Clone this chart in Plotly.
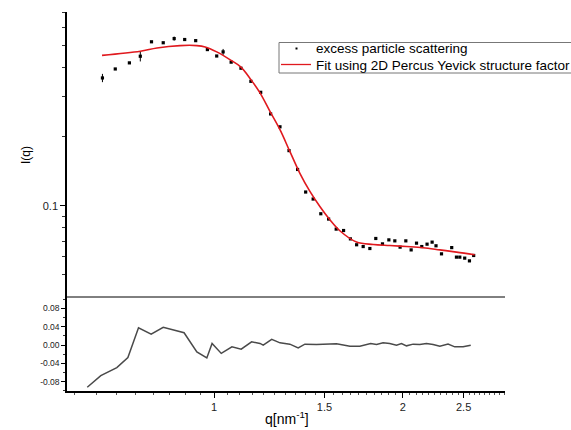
import plotly.graph_objects as go
import numpy as np

# ---- data ----
q_data = [0.664, 0.696, 0.733, 0.763, 0.795, 0.830, 0.864, 0.898, 0.935, 0.976,
          1.010, 1.034, 1.065, 1.104, 1.145, 1.187, 1.231, 1.274, 1.317, 1.359,
          1.400, 1.439, 1.480, 1.523, 1.566, 1.609, 1.650, 1.688, 1.729, 1.772,
          1.811, 1.856, 1.900, 1.942, 1.980, 2.022, 2.062, 2.103, 2.144, 2.186,
          2.227, 2.259, 2.305, 2.393, 2.435, 2.465, 2.510, 2.554, 2.594]
I_data = [0.361, 0.395, 0.420, 0.449, 0.519, 0.514, 0.536, 0.531, 0.525, 0.480,
          0.450, 0.469, 0.423, 0.398, 0.349, 0.3125, 0.2515, 0.221, 0.174, 0.144,
          0.1148, 0.107, 0.0923, 0.0875, 0.0791, 0.0780, 0.0717, 0.0676, 0.0664, 0.0651,
          0.0720, 0.0682, 0.0710, 0.0703, 0.0660, 0.0703, 0.0642, 0.0687, 0.0664, 0.0680,
          0.0694, 0.0669, 0.0617, 0.0657, 0.0597, 0.0597, 0.0591, 0.0575, 0.0607]
I_err = [0.015, 0, 0, 0.023, 0, 0, 0.011, 0, 0, 0,
         0, 0.014, 0, 0, 0, 0, 0, 0, 0, 0,
         0, 0, 0, 0, 0, 0, 0, 0, 0, 0,
         0, 0, 0, 0, 0, 0, 0, 0, 0, 0,
         0, 0, 0, 0, 0, 0, 0, 0, 0]

q_fit = [0.663, 0.763, 0.811, 0.883, 0.939, 0.968, 1.010, 1.060, 1.104, 1.145,
         1.184, 1.228, 1.274, 1.321, 1.370, 1.422, 1.475, 1.530, 1.587, 1.687,
         1.794, 1.907, 2.027, 2.154, 2.291, 2.435, 2.604]
I_fit = [0.453, 0.472, 0.488, 0.4996, 0.4996, 0.493, 0.469, 0.434, 0.4026, 0.355,
         0.3105, 0.258, 0.2147, 0.1726, 0.1389, 0.1155, 0.0993, 0.0869, 0.0778, 0.0695,
         0.0678, 0.0671, 0.0664, 0.0656, 0.0642, 0.0628, 0.0611]

q_res = [0.628, 0.660, 0.700, 0.729, 0.758, 0.794, 0.830, 0.896, 0.939, 0.974,
         0.993, 1.027, 1.068, 1.105, 1.148, 1.184, 1.198, 1.236, 1.274, 1.321,
         1.362, 1.396, 1.457, 1.512, 1.568, 1.647, 1.708, 1.777, 1.816, 1.860,
         1.906, 1.954, 1.990, 2.027, 2.077, 2.128, 2.181, 2.235, 2.291, 2.361,
         2.420, 2.495, 2.566]
res = [-0.0917, -0.0666, -0.049, -0.027, 0.038, 0.024, 0.039, 0.027, -0.0147, -0.028,
       0.0037, -0.018, -0.0037, -0.0088, 0.0073, 0.0037, 0.0, 0.0125, 0.005, 0.0022,
       -0.006, 0.0022, 0.0015, 0.0022, 0.003, -0.0022, -0.0022, 0.0037, 0.0015, 0.005,
       0.0037, 0.0, 0.0037, -0.0015, 0.0022, 0.0015, 0.0037, 0.0015, -0.0022, 0.0022,
       -0.0037, -0.0037, 0.0]

x_major = [1, 1.5, 2, 2.5]
x_major_text = ["1", "1.5", "2", "2.5"]
x_minor = [round(0.6 + 0.05 * i, 2) for i in range(47)]
y_top_major = [0.1]
y_top_minor = [0.05, 0.06, 0.07, 0.08, 0.09, 0.2, 0.3, 0.4, 0.5, 0.6, 0.7]
y_bot_major = [-0.08, -0.04, 0.0, 0.04, 0.08]
y_bot_text = ["-0.08", "-0.04", "0.00", "0.04", "0.08"]
y_bot_minor = [-0.1, -0.06, -0.02, 0.02, 0.06, 0.1]

data_name = "excess particle scattering"
fit_name = "Fit using 2D Percus Yevick structure factor"

FONT = "Liberation Sans, Arial, sans-serif"
RED = "#e0191e"

fig = go.Figure()
fig.add_trace(go.Scatter(
    x=q_data, y=I_data, mode="markers", name=data_name, showlegend=False,
    marker=dict(symbol="square", size=3.2, color="black"),
    error_y=dict(type="data", array=I_err, visible=True, color="black", thickness=1, width=0),
    xaxis="x", yaxis="y"))
fig.add_trace(go.Scatter(
    x=q_fit, y=I_fit, mode="lines", name=fit_name, showlegend=False,
    line=dict(color=RED, width=1.6, shape="spline"),
    xaxis="x", yaxis="y"))
fig.add_trace(go.Scatter(
    x=q_res, y=res, mode="lines", showlegend=False,
    line=dict(color="#4a4a4a", width=1.5),
    xaxis="x", yaxis="y2"))

SPLIT = 0.248
# plot area in pixels: x 67..505, y 12..391
L, R, T, B = 67, 505, 12, 391


def px(x):
    return (x - L) / (R - L)


def py(y):
    return (B - y) / (B - T)


# legend box (reaches past the right edge, as in the reference)
shapes = [
    dict(type="line", xref="paper", yref="paper", x0=0, x1=1, y0=SPLIT, y1=SPLIT,
         line=dict(color="black", width=1)),
    dict(type="rect", xref="paper", yref="paper", x0=px(279), x1=px(600), y0=py(42.5), y1=py(73),
         line=dict(color="#777", width=1), fillcolor="white", layer="above"),
    dict(type="rect", xref="paper", yref="paper", x0=px(295.5), x1=px(297.5), y0=py(47.5), y1=py(49.5),
         line=dict(width=0), fillcolor="black", layer="above"),
    dict(type="line", xref="paper", yref="paper", x0=px(281), x1=px(311), y0=py(64.5), y1=py(64.5),
         line=dict(color=RED, width=1.3), layer="above"),
]

annotations = [
    dict(text="I(q)", xref="paper", yref="paper", x=px(17), y=py(155), textangle=-90,
         showarrow=False, font=dict(size=12, family=FONT)),
    dict(text="q[nm<sup>-1</sup>]", xref="paper", yref="paper", x=px(287), y=py(418),
         yanchor="middle", showarrow=False, font=dict(size=14, family=FONT)),
    dict(text=data_name, xref="paper", yref="paper", x=px(314), y=py(48.5), xanchor="left",
         yanchor="middle", showarrow=False, font=dict(size=13.5, family=FONT, color="black")),
    dict(text=fit_name, xref="paper", yref="paper", x=px(314), y=py(65), xanchor="left",
         yanchor="middle", showarrow=False, font=dict(size=13.5, family=FONT, color="black")),
]

fig.update_layout(
    width=571, height=430,
    margin=dict(l=L, r=571 - R, t=T, b=430 - B, autoexpand=False),
    paper_bgcolor="white", plot_bgcolor="white",
    font=dict(family=FONT, color="black"),
    showlegend=False,
    xaxis=dict(type="log", range=[np.log10(0.583), np.log10(2.91)], anchor="y2", domain=[0, 1],
               tickmode="array", tickvals=x_major, ticktext=x_major_text,
               ticks="outside", ticklen=5, tickwidth=1, tickcolor="black",
               showline=True, linecolor="black", linewidth=2, showgrid=False, zeroline=False,
               tickfont=dict(size=11, color="#222"),
               minor=dict(tickmode="array", tickvals=x_minor, ticks="outside", ticklen=2,
                          tickcolor="#555", showgrid=False)),
    yaxis=dict(type="log", range=[np.log10(0.04), np.log10(0.7)], domain=[SPLIT, 1], anchor="x",
               tickmode="array", tickvals=y_top_major, ticktext=["0.1"],
               ticks="outside", ticklen=5, tickcolor="black",
               showline=True, linecolor="black", linewidth=1.5, showgrid=False, zeroline=False,
               tickfont=dict(size=11, color="#222"),
               minor=dict(tickmode="array", tickvals=y_top_minor, ticks="outside", ticklen=3,
                          tickcolor="#333", showgrid=False)),
    yaxis2=dict(range=[-0.1, 0.105], domain=[0, SPLIT], anchor="x",
                tickmode="array", tickvals=y_bot_major, ticktext=y_bot_text,
                ticks="outside", ticklen=4, tickcolor="black",
                showline=True, linecolor="black", linewidth=1.5, showgrid=False, zeroline=False,
                tickfont=dict(size=8.5, color="#222"),
                minor=dict(tickmode="array", tickvals=y_bot_minor, ticks="outside", ticklen=2,
                           tickcolor="#333", showgrid=False)),
    shapes=shapes,
    annotations=annotations,
)

fig.write_html("out.html", config={"displayModeBar": False},
               post_script="document.body.style.margin='0px';")
